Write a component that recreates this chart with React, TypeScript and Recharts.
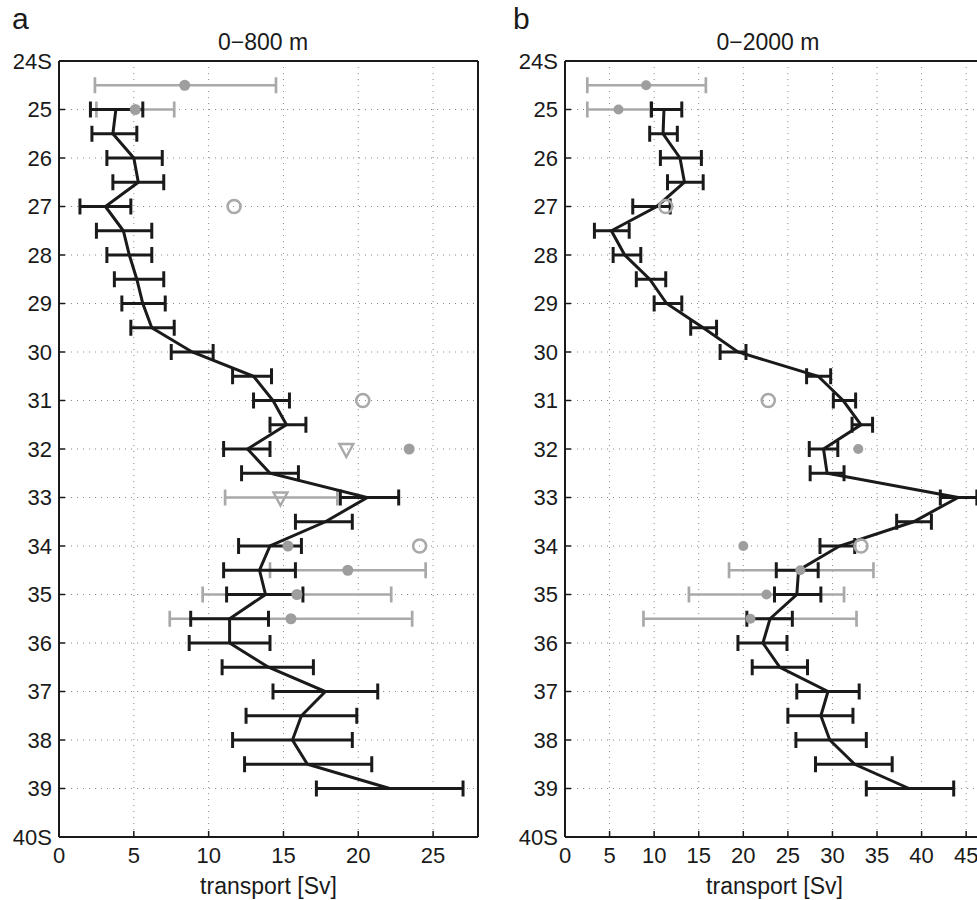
import React from 'react';
import {
  ScatterChart,
  Scatter,
  XAxis,
  YAxis,
  CartesianGrid,
  ErrorBar,
} from 'recharts';

// latitude ticks (degrees south) and their labels
const latTicks = [24, 25, 26, 27, 28, 29, 30, 31, 32, 33, 34, 35, 36, 37, 38, 39, 40];
const latLabels = ['24S', '25', '26', '27', '28', '29', '30', '31', '32', '33', '34', '35', '36', '37', '38', '39', '40S'];
const xTicksA = [0, 5, 10, 15, 20, 25];
const xTicksB = [0, 5, 10, 15, 20, 25, 30, 35, 40, 45];

// black profile, shared latitudes
const latLine = [25, 25.5, 26, 26.5, 27, 27.5, 28, 28.5, 29, 29.5, 30, 30.5, 31, 31.5, 32, 32.5, 33, 33.5, 34, 34.5, 35, 35.5, 36, 36.5, 37, 37.5, 38, 38.5, 39];

// panel a: 0-800 m
const lineA = [3.8, 3.6, 5.0, 5.3, 3.1, 4.3, 4.7, 5.2, 5.6, 6.2, 8.9, 13.0, 14.3, 15.2, 12.6, 14.1, 20.6, 17.8, 14.1, 13.4, 13.8, 11.4, 11.4, 14.0, 17.8, 16.2, 15.6, 16.6, 22.1];
const lineALo = [2.1, 2.2, 3.2, 3.6, 1.4, 2.5, 3.2, 3.7, 4.2, 4.8, 7.5, 11.6, 13.0, 14.1, 11.0, 12.2, 18.8, 15.8, 12.0, 11.0, 11.2, 8.8, 8.7, 10.9, 14.3, 12.5, 11.6, 12.4, 17.2];
const lineAHi = [5.6, 5.2, 6.9, 7.0, 4.8, 6.2, 6.2, 7.0, 7.1, 7.7, 10.3, 14.2, 15.4, 16.5, 14.1, 16.0, 22.7, 19.6, 16.2, 15.8, 16.3, 14.0, 14.1, 17.0, 21.3, 19.9, 19.6, 20.9, 27.0];

const barLatA = [24.5, 25, 33, 34.5, 35, 35.5];
const barValA = [8.4, 5.1, 14.8, 19.3, 15.9, 15.5];
const barLoA = [2.4, 2.5, 11.1, 14.1, 9.6, 7.4];
const barHiA = [14.5, 7.7, 18.6, 24.5, 22.2, 23.6];

const dotLatA = [24.5, 25, 32, 34, 34.5, 35, 35.5];
const dotValA = [8.4, 5.1, 23.4, 15.3, 19.3, 15.9, 15.5];
const ringLatA = [27, 31, 34];
const ringValA = [11.7, 20.3, 24.1];
const triLatA = [32, 33];
const triValA = [19.2, 14.8];

// panel b: 0-2000 m
const lineB = [11.1, 11.0, 12.9, 13.4, 10.3, 5.2, 6.7, 9.5, 11.4, 15.5, 19.4, 28.4, 31.2, 33.2, 29.0, 29.4, 44.1, 39.1, 30.8, 26.2, 26.0, 23.0, 22.2, 24.1, 29.5, 28.7, 29.7, 32.5, 38.6];
const lineBLo = [9.7, 9.5, 10.7, 11.5, 7.6, 3.3, 5.4, 8.0, 10.0, 14.1, 17.4, 27.1, 30.1, 32.2, 27.4, 27.5, 42.1, 37.2, 28.6, 23.7, 23.5, 20.4, 19.4, 21.0, 26.0, 25.0, 25.9, 28.1, 33.8];
const lineBHi = [13.1, 12.6, 15.3, 15.5, 11.8, 7.2, 8.5, 11.3, 13.1, 17.0, 20.3, 29.8, 32.6, 34.5, 30.6, 31.3, 46.2, 41.1, 32.5, 28.4, 28.7, 25.5, 24.9, 27.2, 33.0, 32.3, 33.8, 36.7, 43.6];

const barLatB = [24.5, 25, 34.5, 35, 35.5];
const barValB = [9.1, 6.0, 26.4, 22.6, 20.8];
const barLoB = [2.5, 2.5, 18.4, 13.9, 8.8];
const barHiB = [15.8, 9.6, 34.6, 31.3, 32.7];

const dotLatB = [24.5, 25, 32, 34, 34.5, 35, 35.5];
const dotValB = [9.1, 6.0, 32.9, 20.0, 26.4, 22.6, 20.8];
const ringLatB = [27, 31, 34];
const ringValB = [11.3, 22.8, 33.2];

const FONT = '"Liberation Sans", Arial, Helvetica, sans-serif';
const INK = '#1a1a1a';
const GREY = '#a9a9a9';

const withErr = (lats: number[], vals: number[], lo: number[], hi: number[]) =>
  lats.map((lat, i) => ({ lat, v: vals[i], err: [vals[i] - lo[i], hi[i] - vals[i]] }));
const pts = (lats: number[], vals: number[]) => lats.map((lat, i) => ({ lat, v: vals[i] }));

const latFmt = (v: number) => latLabels[latTicks.indexOf(v)] ?? String(v);

const Nothing = () => <g />;
const Dot = (r: number) => (p: any) => <circle cx={p.cx} cy={p.cy} r={r} fill="#9e9e9e" />;
const Ring = (p: any) => <circle cx={p.cx} cy={p.cy} r={6.5} fill="none" stroke={GREY} strokeWidth={2.6} />;
const Tri = (p: any) => (
  <path
    d={`M${p.cx - 7},${p.cy - 5} L${p.cx + 7},${p.cy - 5} L${p.cx},${p.cy + 8} Z`}
    fill="none"
    stroke={GREY}
    strokeWidth={2.4}
    strokeLinejoin="miter"
  />
);

type PanelProps = {
  width: number;
  yWidth: number;
  marginRight: number;
  xMax: number;
  xTicks: number[];
  line: any[];
  bars: any[];
  dots: any[];
  rings: any[];
  tris: any[];
  dotR: number;
};

function Panel(p: PanelProps) {
  const tick = { fontSize: 22, fill: INK, fontFamily: FONT };
  return (
    <ScatterChart width={p.width} height={900} margin={{ top: 60, right: p.marginRight, bottom: 0, left: 0 }}>
      <CartesianGrid stroke="#8a8a8a" strokeDasharray="1 5" strokeWidth={1} />
      <XAxis
        type="number"
        dataKey="v"
        domain={[0, p.xMax]}
        allowDataOverflow
        ticks={p.xTicks}
        height={63}
        tick={tick}
        tickSize={-6}
        tickMargin={16}
        axisLine={{ stroke: INK, strokeWidth: 2 }}
        tickLine={{ stroke: INK, strokeWidth: 1.5 }}
        label={{ value: 'transport [Sv]', position: 'insideBottom', offset: 6, fontSize: 23, fill: INK, fontFamily: FONT }}
      />
      <XAxis
        xAxisId="top"
        orientation="top"
        type="number"
        domain={[0, p.xMax]}
        allowDataOverflow
        ticks={p.xTicks}
        height={1}
        tick={false}
        tickSize={-6}
        axisLine={{ stroke: INK, strokeWidth: 2 }}
        tickLine={{ stroke: INK, strokeWidth: 1.5 }}
      />
      <YAxis
        type="number"
        dataKey="lat"
        domain={[24, 40]}
        allowDataOverflow
        reversed
        ticks={latTicks}
        tickFormatter={latFmt}
        width={p.yWidth}
        tick={tick}
        tickSize={-6}
        tickMargin={13}
        interval={0}
        axisLine={{ stroke: INK, strokeWidth: 2 }}
        tickLine={{ stroke: INK, strokeWidth: 1.5 }}
      />
      <YAxis
        yAxisId="right"
        orientation="right"
        type="number"
        domain={[24, 40]}
        allowDataOverflow
        reversed
        ticks={latTicks}
        width={1}
        tick={false}
        tickSize={-6}
        axisLine={{ stroke: INK, strokeWidth: 2 }}
        tickLine={{ stroke: INK, strokeWidth: 1.5 }}
      />
      <Scatter data={p.bars} shape={Nothing} isAnimationActive={false}>
        <ErrorBar dataKey="err" direction="x" width={8} stroke={GREY} strokeWidth={2.7} />
      </Scatter>
      <Scatter
        data={p.line}
        shape={Nothing}
        line={{ stroke: INK, strokeWidth: 3 }}
        lineType="joint"
        isAnimationActive={false}
      >
        <ErrorBar dataKey="err" direction="x" width={8} stroke={INK} strokeWidth={3} />
      </Scatter>
      <Scatter data={p.dots} shape={Dot(p.dotR)} isAnimationActive={false} />
      <Scatter data={p.rings} shape={Ring} isAnimationActive={false} />
      <Scatter data={p.tris} shape={Tri} isAnimationActive={false} />
    </ScatterChart>
  );
}

export default function App() {
  return (
    <div
      style={{
        position: 'fixed',
        left: 0,
        top: 0,
        width: 977,
        height: 900,
        overflow: 'hidden',
        background: '#fff',
        fontFamily: FONT,
      }}
    >
      <div style={{ position: 'absolute', left: 0, top: 0 }}>
        <Panel
          width={490}
          yWidth={59}
          marginRight={11}
          xMax={28}
          xTicks={xTicksA}
          line={withErr(latLine, lineA, lineALo, lineAHi)}
          bars={withErr(barLatA, barValA, barLoA, barHiA)}
          dots={pts(dotLatA, dotValA)}
          rings={pts(ringLatA, ringValA)}
          tris={pts(triLatA, triValA)}
          dotR={5.5}
        />
      </div>
      <div style={{ position: 'absolute', left: 490, top: 0 }}>
        <Panel
          width={510}
          yWidth={75}
          marginRight={15}
          xMax={47}
          xTicks={xTicksB}
          line={withErr(latLine, lineB, lineBLo, lineBHi)}
          bars={withErr(barLatB, barValB, barLoB, barHiB)}
          dots={pts(dotLatB, dotValB)}
          rings={pts(ringLatB, ringValB)}
          tris={[]}
          dotR={5}
        />
      </div>
      <svg width={977} height={900} style={{ position: 'absolute', left: 0, top: 0, pointerEvents: 'none' }}>
        <text x={12} y={29} fontSize={30} fill={INK} fontFamily={FONT}>a</text>
        <text x={513} y={29} fontSize={30} fill={INK} fontFamily={FONT}>b</text>
        <text x={263} y={50} fontSize={23} fill={INK} fontFamily={FONT} textAnchor="middle">0−800 m</text>
        <text x={768} y={50} fontSize={23} fill={INK} fontFamily={FONT} textAnchor="middle">0−2000 m</text>
      </svg>
    </div>
  );
}
